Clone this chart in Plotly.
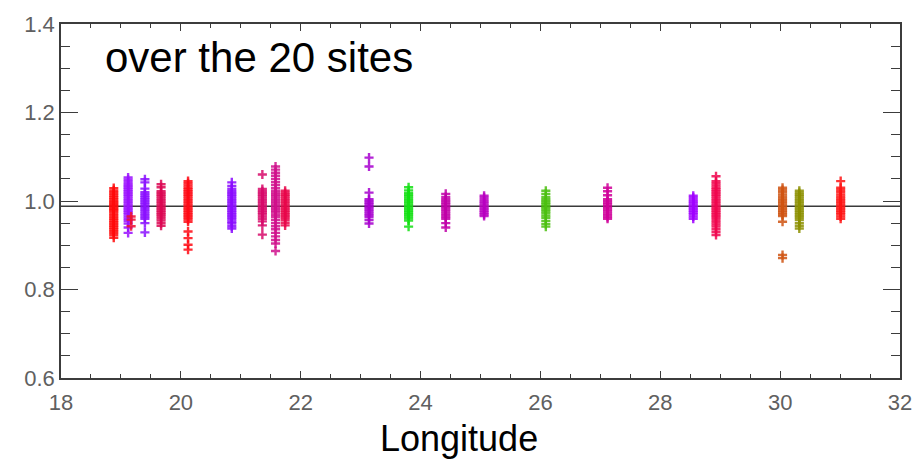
import plotly.graph_objects as go

# Longitude of each of the 20 sites
site_lon = [18.88, 19.12, 19.40, 19.67, 20.12, 20.85, 21.36, 21.58, 21.74, 23.14,
            23.80, 24.42, 25.06, 26.09, 27.12, 28.55, 28.93, 30.04, 30.32, 31.01]

site_color = ["#ff0a0a", "#9a10ff", "#8a10ff", "#dc0652", "#ff0a14", "#8a0aff", "#d80a6a",
              "#d0108c", "#e8064a", "#a800d0", "#12e012", "#c000a8", "#b800c0", "#4cc010",
              "#d0009a", "#a000ff", "#f0064e", "#d05412", "#8c9000", "#ff1414"]

# Ratio values per site
s01 = [1.029, 1.024, 1.020, 1.016, 1.012, 1.008, 1.004, 1.000, 0.997, 0.994, 0.991, 0.988,
       0.985, 0.982, 0.979, 0.976, 0.972, 0.968, 0.964, 0.960, 0.956, 0.952, 0.948, 0.944,
       0.940, 0.936, 0.932, 0.928, 0.923, 0.917]
s02 = [1.053, 1.048, 1.043, 1.038, 1.034, 1.030, 1.026, 1.022, 1.018, 1.014, 1.010, 1.006,
       1.002, 0.998, 0.994, 0.990, 0.986, 0.982, 0.978, 0.974, 0.970, 0.965, 0.960, 0.955,
       0.949, 0.940, 0.928]
s03 = [1.049, 1.042, 1.028, 1.020, 1.016, 1.012, 1.008, 1.004, 1.000, 0.996, 0.992, 0.988,
       0.984, 0.980, 0.976, 0.972, 0.968, 0.964, 0.960, 0.950, 0.929]
s04 = [1.038, 1.031, 1.022, 1.018, 1.014, 1.010, 1.006, 1.002, 0.998, 0.994, 0.990, 0.986,
       0.982, 0.978, 0.974, 0.970, 0.966, 0.961, 0.956, 0.950, 0.944]
s05 = [1.045, 1.040, 1.035, 1.030, 1.026, 1.022, 1.018, 1.014, 1.010, 1.006, 1.002, 0.998,
       0.994, 0.990, 0.986, 0.982, 0.978, 0.974, 0.970, 0.966, 0.962, 0.958, 0.953, 0.931,
       0.916, 0.901, 0.890]
s06 = [1.042, 1.034, 1.027, 1.022, 1.018, 1.014, 1.010, 1.006, 1.002, 0.998, 0.994, 0.990,
       0.986, 0.982, 0.978, 0.974, 0.970, 0.966, 0.962, 0.958, 0.953, 0.949, 0.943, 0.938]
s07 = [1.060, 1.027, 1.022, 1.018, 1.014, 1.010, 1.006, 1.002, 0.998, 0.994, 0.990, 0.986,
       0.982, 0.978, 0.974, 0.970, 0.965, 0.960, 0.954, 0.945, 0.924]
s08 = [1.078, 1.071, 1.064, 1.057, 1.050, 1.043, 1.036, 1.029, 1.023, 1.018, 1.014, 1.010,
       1.006, 1.002, 0.998, 0.994, 0.990, 0.986, 0.982, 0.978, 0.974, 0.969, 0.964, 0.957,
       0.950, 0.943, 0.936, 0.928, 0.920, 0.912, 0.904, 0.887]
s09 = [1.023, 1.018, 1.014, 1.010, 1.006, 1.002, 0.998, 0.994, 0.990, 0.986, 0.982, 0.978,
       0.974, 0.970, 0.966, 0.962, 0.957, 0.951, 0.945]
s10 = [1.098, 1.078, 1.019, 1.004, 1.000, 0.996, 0.992, 0.988, 0.984, 0.980, 0.976, 0.972,
       0.968, 0.964, 0.957, 0.949]
s11 = [1.031, 1.024, 1.018, 1.014, 1.010, 1.006, 1.002, 0.998, 0.994, 0.990, 0.986, 0.982,
       0.978, 0.974, 0.970, 0.966, 0.961, 0.956, 0.942]
s12 = [1.016, 1.009, 1.004, 1.000, 0.996, 0.992, 0.988, 0.984, 0.980, 0.976, 0.972, 0.968,
       0.964, 0.960, 0.950, 0.940]
s13 = [1.012, 1.007, 1.002, 0.998, 0.994, 0.990, 0.986, 0.982, 0.978, 0.974, 0.970, 0.966]
s14 = [1.023, 1.016, 1.009, 1.004, 1.000, 0.996, 0.992, 0.988, 0.984, 0.980, 0.976, 0.972,
       0.967, 0.962, 0.955, 0.948, 0.942]
s15 = [1.030, 1.022, 1.013, 1.004, 1.000, 0.996, 0.992, 0.988, 0.984, 0.980, 0.976, 0.972,
       0.968, 0.964, 0.960]
s16 = [1.012, 1.007, 1.002, 0.998, 0.994, 0.990, 0.986, 0.982, 0.978, 0.974, 0.970, 0.965,
       0.960]
s17 = [1.056, 1.045, 1.040, 1.035, 1.030, 1.026, 1.022, 1.018, 1.014, 1.010, 1.006, 1.002,
       0.998, 0.994, 0.990, 0.986, 0.982, 0.978, 0.974, 0.970, 0.966, 0.962, 0.957, 0.952,
       0.947, 0.942, 0.936, 0.930, 0.923]
s18 = [1.030, 1.025, 1.020, 1.015, 1.010, 1.006, 1.002, 0.998, 0.994, 0.990, 0.986, 0.982,
       0.978, 0.974, 0.970, 0.966, 0.953, 0.878, 0.871]
s19 = [1.023, 1.018, 1.014, 1.010, 1.006, 1.002, 0.998, 0.994, 0.990, 0.986, 0.982, 0.978,
       0.974, 0.970, 0.966, 0.962, 0.957, 0.950, 0.944, 0.938]
s20 = [1.045, 1.030, 1.025, 1.020, 1.015, 1.010, 1.006, 1.002, 0.998, 0.994, 0.990, 0.986,
       0.982, 0.978, 0.974, 0.970, 0.965, 0.960]

site_values = [s01, s02, s03, s04, s05, s06, s07, s08, s09, s10,
               s11, s12, s13, s14, s15, s16, s17, s18, s19, s20]

# A few stray points just east of the second site
stray_lon = 19.17
stray_values = [0.965, 0.958, 0.943]
stray_color = "#f01030"

# Overall mean ratio
mean_ratio = 0.988

x_range = [18, 32]
y_range = [0.6, 1.4]
x_ticks = [18, 20, 22, 24, 26, 28, 30, 32]
y_ticks = [0.6, 0.8, 1.0, 1.2, 1.4]

fig = go.Figure()

fig.add_trace(go.Scatter(
    x=x_range, y=[mean_ratio, mean_ratio], mode="lines",
    line=dict(color="#3a3a3a", width=1.6), hoverinfo="skip", showlegend=False))

marker_size = 6.5
marker_width = 2.4

for lon, col, vals in zip(site_lon, site_color, site_values):
    fig.add_trace(go.Scatter(
        x=[lon] * len(vals), y=vals, mode="markers",
        marker=dict(symbol="cross-thin", size=marker_size, color=col, opacity=0.85,
                    line=dict(color=col, width=marker_width)),
        showlegend=False))

fig.add_trace(go.Scatter(
    x=[stray_lon] * len(stray_values), y=stray_values, mode="markers",
    marker=dict(symbol="cross-thin", size=marker_size, color=stray_color, opacity=0.85,
                line=dict(color=stray_color, width=marker_width)),
    showlegend=False))

axis_col = "#3c3c3c"
tick_font = dict(family="Liberation Sans, Arial, sans-serif", size=22, color="#606060")

fig.update_xaxes(
    range=x_range, tickvals=x_ticks, ticktext=[str(v) for v in x_ticks],
    showgrid=False, zeroline=False, showline=True, linecolor=axis_col, linewidth=1.5,
    mirror="ticks", ticks="inside", ticklen=7, tickwidth=1.3, tickcolor=axis_col,
    minor=dict(dtick=0.5, tick0=18, ticks="inside", ticklen=4, tickwidth=1.1,
               tickcolor=axis_col, showgrid=False),
    ticklabelstandoff=4,
    tickfont=tick_font)

fig.update_yaxes(
    range=y_range, tickvals=y_ticks, ticktext=["%.1f" % v for v in y_ticks],
    showgrid=False, zeroline=False, showline=True, linecolor=axis_col, linewidth=1.5,
    mirror="ticks", ticks="inside", ticklen=17, tickwidth=1.3, tickcolor=axis_col,
    minor=dict(dtick=0.05, tick0=0.6, ticks="inside", ticklen=9, tickwidth=1.1,
               tickcolor=axis_col, showgrid=False),
    tickfont=tick_font)

fig.add_annotation(
    x=0.05, y=0.905, xref="paper", yref="paper", xanchor="left", yanchor="middle",
    text="over the 20 sites", showarrow=False,
    font=dict(family="Liberation Sans, Arial, sans-serif", size=42, color="#000000"))

fig.add_annotation(
    x=0.4746, y=-0.17, xref="paper", yref="paper", xanchor="center", yanchor="middle",
    text="Longitude", showarrow=False,
    font=dict(family="Liberation Sans, Arial, sans-serif", size=36, color="#000000"))

fig.update_layout(
    width=924, height=459,
    margin=dict(l=61, r=16, t=15, b=81),
    paper_bgcolor="#ffffff", plot_bgcolor="#ffffff")

fig.write_html("out.html")
